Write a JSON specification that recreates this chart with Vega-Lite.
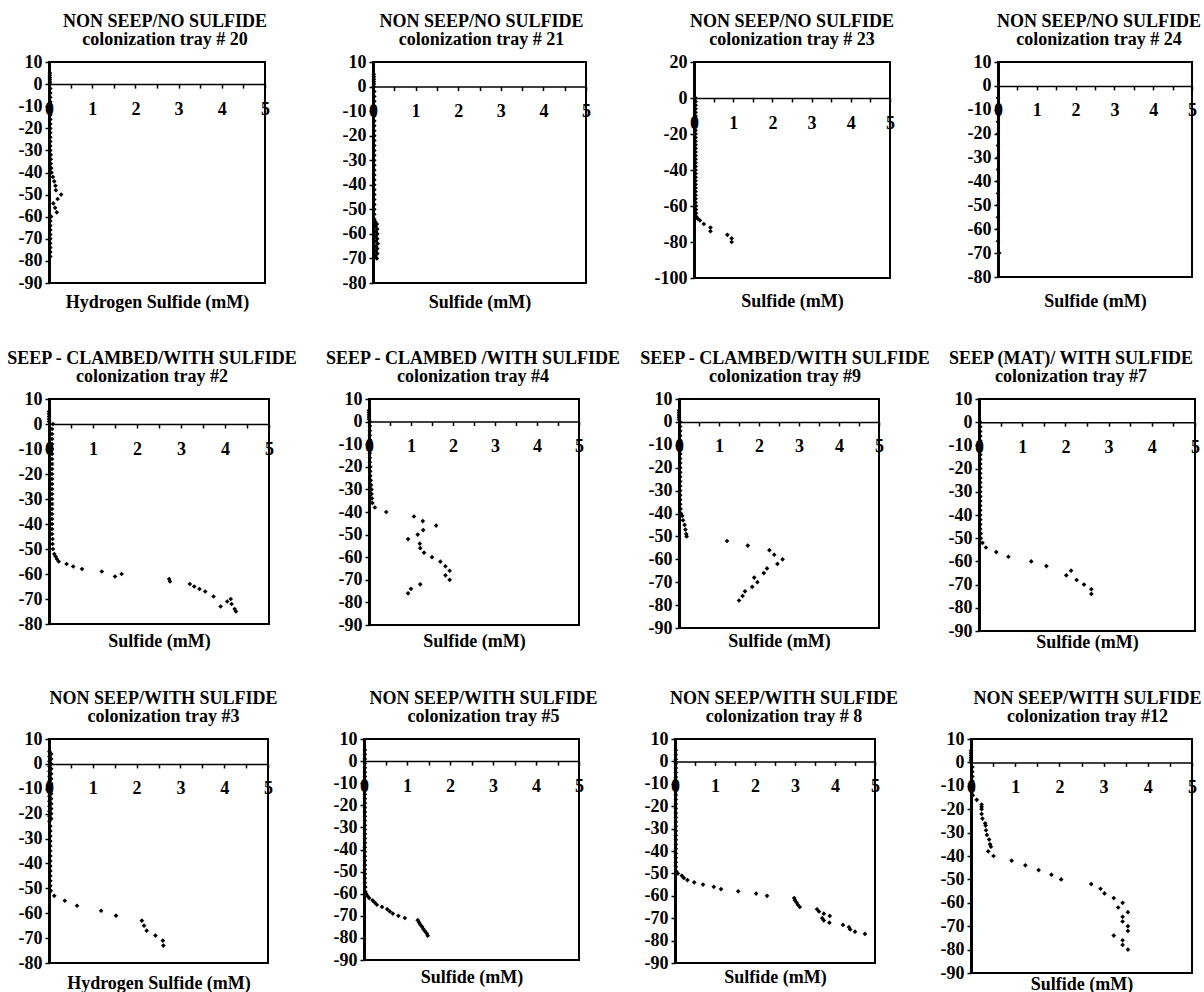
{
  "$schema": "https://vega.github.io/schema/vega-lite/v6.json",
  "background": "white",
  "padding": {"left": 5, "top": 12, "right": 2, "bottom": 0},
  "config": {
    "font": "Liberation Serif",
    "view": {"stroke": "black", "strokeWidth": 2},
    "axis": {"grid": false, "labelFont": "Liberation Serif", "labelFontSize": 18, "labelFontWeight": "bold", "labelColor": "black", "titleFont": "Liberation Serif", "titleFontSize": 18, "titleFontWeight": "bold", "titleColor": "black", "domainColor": "black", "tickColor": "black", "tickSize": 4, "labelOverlap": false, "labelBound": false, "labelFlush": false},
    "axisX": {"domainWidth": 1.5, "tickWidth": 1.5, "labelPadding": 12, "titleBaseline": "top", "titlePadding": 0, "labelFlush": false},
    "axisY": {"domainWidth": 3, "tickWidth": 1.5, "labelPadding": 3},
    "title": {"font": "Liberation Serif", "fontSize": 18, "fontWeight": "bold", "color": "black", "anchor": "middle", "frame": "group", "lineHeight": 18, "offset": 4},
    "point": {"shape": "diamond", "filled": true, "color": "black", "size": 22, "opacity": 1}
  },
  "datasets": {
    "t20": [
      {"depth":5,"sulfide":0.02},{"depth":4,"sulfide":0.02},{"depth":3,"sulfide":0.02},{"depth":2,"sulfide":0.02},{"depth":1,"sulfide":0.02},{"depth":0,"sulfide":0.02},
      {"depth":-2,"sulfide":0.03},{"depth":-4,"sulfide":0.03},{"depth":-6,"sulfide":0.03},{"depth":-8,"sulfide":0.03},{"depth":-10,"sulfide":0.03},{"depth":-12,"sulfide":0.03},{"depth":-14,"sulfide":0.03},{"depth":-16,"sulfide":0.03},{"depth":-18,"sulfide":0.03},{"depth":-20,"sulfide":0.03},{"depth":-22,"sulfide":0.03},{"depth":-24,"sulfide":0.03},{"depth":-26,"sulfide":0.03},{"depth":-28,"sulfide":0.03},{"depth":-30,"sulfide":0.03},{"depth":-32,"sulfide":0.04},{"depth":-34,"sulfide":0.04},{"depth":-36,"sulfide":0.04},{"depth":-38,"sulfide":0.05},
      {"depth":-40,"sulfide":0.06},{"depth":-42,"sulfide":0.09},{"depth":-44,"sulfide":0.12},{"depth":-46,"sulfide":0.15},{"depth":-48,"sulfide":0.16},{"depth":-50,"sulfide":0.28},{"depth":-52,"sulfide":0.2},{"depth":-54,"sulfide":0.1},{"depth":-56,"sulfide":0.14},{"depth":-58,"sulfide":0.18},{"depth":-60,"sulfide":0.05},
      {"depth":-62,"sulfide":0.03},{"depth":-64,"sulfide":0.03},{"depth":-66,"sulfide":0.03},{"depth":-68,"sulfide":0.03},{"depth":-70,"sulfide":0.03},{"depth":-72,"sulfide":0.03},{"depth":-74,"sulfide":0.03},{"depth":-76,"sulfide":0.03},{"depth":-78,"sulfide":0.03}
    ],
    "t21": [
      {"depth":5,"sulfide":0.02},{"depth":4,"sulfide":0.02},{"depth":3,"sulfide":0.02},{"depth":2,"sulfide":0.02},{"depth":1,"sulfide":0.02},{"depth":0,"sulfide":0.02},
      {"depth":-2,"sulfide":0.03},{"depth":-4,"sulfide":0.03},{"depth":-6,"sulfide":0.03},{"depth":-8,"sulfide":0.03},{"depth":-10,"sulfide":0.03},{"depth":-12,"sulfide":0.03},{"depth":-14,"sulfide":0.03},{"depth":-16,"sulfide":0.03},{"depth":-18,"sulfide":0.03},{"depth":-20,"sulfide":0.03},{"depth":-22,"sulfide":0.03},{"depth":-24,"sulfide":0.03},{"depth":-26,"sulfide":0.03},{"depth":-28,"sulfide":0.03},{"depth":-30,"sulfide":0.03},{"depth":-32,"sulfide":0.03},{"depth":-34,"sulfide":0.03},{"depth":-36,"sulfide":0.03},{"depth":-38,"sulfide":0.03},{"depth":-40,"sulfide":0.03},{"depth":-42,"sulfide":0.03},{"depth":-44,"sulfide":0.03},{"depth":-46,"sulfide":0.03},{"depth":-48,"sulfide":0.03},{"depth":-50,"sulfide":0.03},{"depth":-52,"sulfide":0.03},{"depth":-54,"sulfide":0.03},
      {"depth":-55,"sulfide":0.05},{"depth":-56,"sulfide":0.09},{"depth":-57,"sulfide":0.06},{"depth":-58,"sulfide":0.1},{"depth":-59,"sulfide":0.07},{"depth":-60,"sulfide":0.1},{"depth":-61,"sulfide":0.06},{"depth":-62,"sulfide":0.1},{"depth":-63,"sulfide":0.07},{"depth":-64,"sulfide":0.11},{"depth":-65,"sulfide":0.07},{"depth":-66,"sulfide":0.1},{"depth":-67,"sulfide":0.07},{"depth":-68,"sulfide":0.1},{"depth":-69,"sulfide":0.06},{"depth":-70,"sulfide":0.09}
    ],
    "t23": [
      {"depth":0,"sulfide":0.04},{"depth":-2,"sulfide":0.04},{"depth":-4,"sulfide":0.04},{"depth":-6,"sulfide":0.04},{"depth":-8,"sulfide":0.04},{"depth":-10,"sulfide":0.04},{"depth":-12,"sulfide":0.04},{"depth":-14,"sulfide":0.04},{"depth":-16,"sulfide":0.04},{"depth":-18,"sulfide":0.04},{"depth":-20,"sulfide":0.04},{"depth":-22,"sulfide":0.04},{"depth":-24,"sulfide":0.04},{"depth":-26,"sulfide":0.04},{"depth":-28,"sulfide":0.04},{"depth":-30,"sulfide":0.04},{"depth":-32,"sulfide":0.04},{"depth":-34,"sulfide":0.04},{"depth":-36,"sulfide":0.04},{"depth":-38,"sulfide":0.04},{"depth":-40,"sulfide":0.04},{"depth":-42,"sulfide":0.04},{"depth":-44,"sulfide":0.04},{"depth":-46,"sulfide":0.04},{"depth":-48,"sulfide":0.04},{"depth":-50,"sulfide":0.04},{"depth":-52,"sulfide":0.04},{"depth":-54,"sulfide":0.04},{"depth":-56,"sulfide":0.04},{"depth":-58,"sulfide":0.04},{"depth":-60,"sulfide":0.05},{"depth":-62,"sulfide":0.05},{"depth":-64,"sulfide":0.05},
      {"depth":-66,"sulfide":0.06},{"depth":-67,"sulfide":0.09},{"depth":-68,"sulfide":0.15},{"depth":-70,"sulfide":0.25},{"depth":-72,"sulfide":0.42},{"depth":-74,"sulfide":0.42},{"depth":-76,"sulfide":0.85},{"depth":-78,"sulfide":0.96},{"depth":-80,"sulfide":0.96}
    ],
    "t24": [
      {"depth":-5,"sulfide":0},{"depth":-10,"sulfide":0},{"depth":-15,"sulfide":0},{"depth":-20,"sulfide":0},{"depth":-25,"sulfide":0},{"depth":-30,"sulfide":0},{"depth":-35,"sulfide":0},{"depth":-40,"sulfide":0},{"depth":-45,"sulfide":0},{"depth":-50,"sulfide":0},{"depth":-55,"sulfide":0},{"depth":-60,"sulfide":0},{"depth":-65,"sulfide":0},{"depth":-70,"sulfide":0.03}
    ],
    "t2": [
      {"depth":5,"sulfide":0},{"depth":4,"sulfide":0},{"depth":3,"sulfide":0},{"depth":2,"sulfide":0},{"depth":1,"sulfide":0},{"depth":0,"sulfide":0.09},
      {"depth":-2,"sulfide":0.07},{"depth":-4,"sulfide":0.07},{"depth":-6,"sulfide":0.07},{"depth":-8,"sulfide":0.07},{"depth":-10,"sulfide":0.07},{"depth":-12,"sulfide":0.07},{"depth":-14,"sulfide":0.07},{"depth":-16,"sulfide":0.07},{"depth":-18,"sulfide":0.07},{"depth":-20,"sulfide":0.07},{"depth":-22,"sulfide":0.07},{"depth":-24,"sulfide":0.07},{"depth":-26,"sulfide":0.07},{"depth":-28,"sulfide":0.07},{"depth":-30,"sulfide":0.07},{"depth":-32,"sulfide":0.07},{"depth":-34,"sulfide":0.07},{"depth":-36,"sulfide":0.07},{"depth":-38,"sulfide":0.07},{"depth":-40,"sulfide":0.07},{"depth":-42,"sulfide":0.07},{"depth":-44,"sulfide":0.07},{"depth":-46,"sulfide":0.08},{"depth":-48,"sulfide":0.08},{"depth":-50,"sulfide":0.09},
      {"depth":-52,"sulfide":0.12},{"depth":-53,"sulfide":0.15},{"depth":-54,"sulfide":0.18},{"depth":-55,"sulfide":0.22},{"depth":-56,"sulfide":0.4},{"depth":-57,"sulfide":0.55},{"depth":-58,"sulfide":0.75},{"depth":-59,"sulfide":1.2},{"depth":-61,"sulfide":1.5},{"depth":-60,"sulfide":1.65},{"depth":-62,"sulfide":2.73},{"depth":-63,"sulfide":2.75},{"depth":-64,"sulfide":3.2},{"depth":-65,"sulfide":3.3},{"depth":-66,"sulfide":3.42},{"depth":-67,"sulfide":3.55},{"depth":-69,"sulfide":3.74},{"depth":-73,"sulfide":3.9},{"depth":-71,"sulfide":4.05},{"depth":-70,"sulfide":4.13},{"depth":-72,"sulfide":4.15},{"depth":-74,"sulfide":4.22},{"depth":-75,"sulfide":4.25}
    ],
    "t4": [
      {"depth":5,"sulfide":0},{"depth":4,"sulfide":0},{"depth":3,"sulfide":0},{"depth":2,"sulfide":0},{"depth":1,"sulfide":0},
      {"depth":0,"sulfide":0.02},{"depth":-2,"sulfide":0.02},{"depth":-4,"sulfide":0.02},{"depth":-6,"sulfide":0.02},{"depth":-8,"sulfide":0.02},{"depth":-10,"sulfide":0.02},{"depth":-12,"sulfide":0.02},{"depth":-14,"sulfide":0.02},{"depth":-16,"sulfide":0.02},{"depth":-18,"sulfide":0.02},{"depth":-20,"sulfide":0.03},{"depth":-22,"sulfide":0.03},{"depth":-24,"sulfide":0.03},{"depth":-26,"sulfide":0.04},{"depth":-28,"sulfide":0.05},{"depth":-30,"sulfide":0.06},{"depth":-32,"sulfide":0.06},{"depth":-34,"sulfide":0.07},{"depth":-36,"sulfide":0.08},
      {"depth":-38,"sulfide":0.14},{"depth":-40,"sulfide":0.41},{"depth":-42,"sulfide":1.07},{"depth":-44,"sulfide":1.28},{"depth":-46,"sulfide":1.6},{"depth":-48,"sulfide":1.29},{"depth":-50,"sulfide":1.16},{"depth":-52,"sulfide":0.93},{"depth":-54,"sulfide":1.21},{"depth":-56,"sulfide":1.22},{"depth":-58,"sulfide":1.31},{"depth":-60,"sulfide":1.5},{"depth":-62,"sulfide":1.7},{"depth":-64,"sulfide":1.82},{"depth":-66,"sulfide":1.92},{"depth":-68,"sulfide":1.82},{"depth":-70,"sulfide":1.92},{"depth":-72,"sulfide":1.22},{"depth":-74,"sulfide":1.0},{"depth":-76,"sulfide":0.93}
    ],
    "t9": [
      {"depth":5,"sulfide":0},{"depth":4,"sulfide":0},{"depth":3,"sulfide":0},{"depth":2,"sulfide":0},{"depth":1,"sulfide":0},
      {"depth":0,"sulfide":0.03},{"depth":-2,"sulfide":0.03},{"depth":-4,"sulfide":0.03},{"depth":-6,"sulfide":0.03},{"depth":-8,"sulfide":0.03},{"depth":-10,"sulfide":0.03},{"depth":-12,"sulfide":0.03},{"depth":-14,"sulfide":0.03},{"depth":-16,"sulfide":0.03},{"depth":-18,"sulfide":0.03},{"depth":-20,"sulfide":0.03},{"depth":-22,"sulfide":0.03},{"depth":-24,"sulfide":0.03},{"depth":-26,"sulfide":0.03},{"depth":-28,"sulfide":0.03},{"depth":-30,"sulfide":0.03},{"depth":-32,"sulfide":0.03},{"depth":-34,"sulfide":0.03},{"depth":-36,"sulfide":0.03},
      {"depth":-38,"sulfide":0.04},{"depth":-40,"sulfide":0.05},{"depth":-41,"sulfide":0.08},{"depth":-43,"sulfide":0.1},{"depth":-45,"sulfide":0.14},{"depth":-47,"sulfide":0.16},{"depth":-49,"sulfide":0.18},{"depth":-50,"sulfide":0.19},
      {"depth":-52,"sulfide":1.2},{"depth":-54,"sulfide":1.72},{"depth":-56,"sulfide":2.26},{"depth":-58,"sulfide":2.38},{"depth":-60,"sulfide":2.59},{"depth":-62,"sulfide":2.46},{"depth":-64,"sulfide":2.2},{"depth":-66,"sulfide":2.12},{"depth":-68,"sulfide":1.88},{"depth":-70,"sulfide":1.96},{"depth":-72,"sulfide":1.83},{"depth":-74,"sulfide":1.65},{"depth":-76,"sulfide":1.59},{"depth":-78,"sulfide":1.5}
    ],
    "t7": [
      {"depth":0,"sulfide":0.03},{"depth":-2,"sulfide":0.03},{"depth":-4,"sulfide":0.03},{"depth":-6,"sulfide":0.03},{"depth":-8,"sulfide":0.03},{"depth":-10,"sulfide":0.03},{"depth":-12,"sulfide":0.03},{"depth":-14,"sulfide":0.03},{"depth":-16,"sulfide":0.03},{"depth":-18,"sulfide":0.03},{"depth":-20,"sulfide":0.03},{"depth":-22,"sulfide":0.03},{"depth":-24,"sulfide":0.03},{"depth":-26,"sulfide":0.03},{"depth":-28,"sulfide":0.03},{"depth":-30,"sulfide":0.03},{"depth":-32,"sulfide":0.03},{"depth":-34,"sulfide":0.03},{"depth":-36,"sulfide":0.03},{"depth":-38,"sulfide":0.03},{"depth":-40,"sulfide":0.03},{"depth":-42,"sulfide":0.03},{"depth":-44,"sulfide":0.03},{"depth":-46,"sulfide":0.03},{"depth":-48,"sulfide":0.04},{"depth":-50,"sulfide":0.04},
      {"depth":-52,"sulfide":0.08},{"depth":-54,"sulfide":0.16},{"depth":-56,"sulfide":0.4},{"depth":-58,"sulfide":0.68},{"depth":-60,"sulfide":1.21},{"depth":-62,"sulfide":1.56},{"depth":-64,"sulfide":2.13},{"depth":-66,"sulfide":2.02},{"depth":-68,"sulfide":2.26},{"depth":-70,"sulfide":2.43},{"depth":-72,"sulfide":2.6},{"depth":-74,"sulfide":2.6}
    ],
    "t3": [
      {"depth":5,"sulfide":0.01},{"depth":4,"sulfide":0.05},{"depth":3,"sulfide":0.01},{"depth":2,"sulfide":0.05},{"depth":1,"sulfide":0.01},{"depth":0,"sulfide":0.05},{"depth":-1,"sulfide":0.01},{"depth":-2,"sulfide":0.05},{"depth":-3,"sulfide":0.01},{"depth":-4,"sulfide":0.05},{"depth":-5,"sulfide":0.01},{"depth":-6,"sulfide":0.05},{"depth":-7,"sulfide":0.01},{"depth":-8,"sulfide":0.05},{"depth":-9,"sulfide":0.01},{"depth":-10,"sulfide":0.05},{"depth":-11,"sulfide":0.01},{"depth":-12,"sulfide":0.05},{"depth":-13,"sulfide":0.01},{"depth":-14,"sulfide":0.05},{"depth":-15,"sulfide":0.01},{"depth":-16,"sulfide":0.05},{"depth":-17,"sulfide":0.01},{"depth":-18,"sulfide":0.05},{"depth":-19,"sulfide":0.01},{"depth":-20,"sulfide":0.05},{"depth":-21,"sulfide":0.01},{"depth":-22,"sulfide":0.05},{"depth":-23,"sulfide":0.01},
      {"depth":-25,"sulfide":0.03},{"depth":-27,"sulfide":0.03},{"depth":-29,"sulfide":0.03},{"depth":-31,"sulfide":0.03},{"depth":-33,"sulfide":0.03},{"depth":-35,"sulfide":0.03},{"depth":-37,"sulfide":0.03},{"depth":-39,"sulfide":0.03},{"depth":-41,"sulfide":0.03},{"depth":-43,"sulfide":0.03},{"depth":-45,"sulfide":0.03},{"depth":-47,"sulfide":0.03},{"depth":-49,"sulfide":0.03},{"depth":-51,"sulfide":0.04},
      {"depth":-53,"sulfide":0.12},{"depth":-55,"sulfide":0.36},{"depth":-57,"sulfide":0.64},{"depth":-59,"sulfide":1.19},{"depth":-61,"sulfide":1.53},{"depth":-63,"sulfide":2.12},{"depth":-65,"sulfide":2.17},{"depth":-67,"sulfide":2.23},{"depth":-69,"sulfide":2.43},{"depth":-71,"sulfide":2.6},{"depth":-73,"sulfide":2.61}
    ],
    "t5": [
      {"depth":5,"sulfide":0.02},{"depth":3,"sulfide":0.02},{"depth":1,"sulfide":0.02},{"depth":-1,"sulfide":0.02},{"depth":-3,"sulfide":0.02},{"depth":-5,"sulfide":0.02},{"depth":-7,"sulfide":0.02},{"depth":-9,"sulfide":0.02},{"depth":-11,"sulfide":0.02},{"depth":-13,"sulfide":0.02},{"depth":-15,"sulfide":0.02},{"depth":-17,"sulfide":0.02},{"depth":-19,"sulfide":0.02},{"depth":-21,"sulfide":0.02},{"depth":-23,"sulfide":0.02},{"depth":-25,"sulfide":0.02},{"depth":-27,"sulfide":0.02},{"depth":-29,"sulfide":0.02},{"depth":-31,"sulfide":0.02},{"depth":-33,"sulfide":0.02},{"depth":-35,"sulfide":0.02},{"depth":-37,"sulfide":0.02},{"depth":-39,"sulfide":0.02},{"depth":-41,"sulfide":0.02},{"depth":-43,"sulfide":0.02},{"depth":-45,"sulfide":0.02},{"depth":-47,"sulfide":0.02},{"depth":-49,"sulfide":0.02},{"depth":-51,"sulfide":0.02},{"depth":-53,"sulfide":0.02},{"depth":-55,"sulfide":0.02},{"depth":-57,"sulfide":0.03},{"depth":-59,"sulfide":0.03},
      {"depth":-60,"sulfide":0.05},{"depth":-61,"sulfide":0.08},{"depth":-62,"sulfide":0.12},{"depth":-63,"sulfide":0.2},{"depth":-64,"sulfide":0.25},{"depth":-65,"sulfide":0.3},{"depth":-66,"sulfide":0.42},{"depth":-67,"sulfide":0.54},{"depth":-68,"sulfide":0.6},{"depth":-69,"sulfide":0.67},{"depth":-70,"sulfide":0.8},{"depth":-71,"sulfide":0.95},{"depth":-72,"sulfide":1.25},{"depth":-73,"sulfide":1.28},{"depth":-74,"sulfide":1.31},{"depth":-75,"sulfide":1.35},{"depth":-76,"sulfide":1.38},{"depth":-77,"sulfide":1.42},{"depth":-78,"sulfide":1.46},{"depth":-79,"sulfide":1.48}
    ],
    "t8": [
      {"depth":5,"sulfide":0.02},{"depth":3,"sulfide":0.02},{"depth":1,"sulfide":0.02},{"depth":-1,"sulfide":0.02},{"depth":-3,"sulfide":0.02},{"depth":-5,"sulfide":0.02},{"depth":-7,"sulfide":0.02},{"depth":-9,"sulfide":0.02},{"depth":-11,"sulfide":0.02},{"depth":-13,"sulfide":0.02},{"depth":-15,"sulfide":0.02},{"depth":-17,"sulfide":0.02},{"depth":-19,"sulfide":0.02},{"depth":-21,"sulfide":0.02},{"depth":-23,"sulfide":0.02},{"depth":-25,"sulfide":0.02},{"depth":-27,"sulfide":0.02},{"depth":-29,"sulfide":0.02},{"depth":-31,"sulfide":0.02},{"depth":-33,"sulfide":0.02},{"depth":-35,"sulfide":0.02},{"depth":-37,"sulfide":0.02},{"depth":-39,"sulfide":0.02},{"depth":-41,"sulfide":0.02},{"depth":-43,"sulfide":0.02},{"depth":-45,"sulfide":0.02},{"depth":-47,"sulfide":0.02},
      {"depth":-49,"sulfide":0.03},{"depth":-50,"sulfide":0.07},{"depth":-51,"sulfide":0.17},{"depth":-52,"sulfide":0.22},{"depth":-53,"sulfide":0.31},{"depth":-54,"sulfide":0.48},{"depth":-55,"sulfide":0.7},{"depth":-56,"sulfide":0.97},{"depth":-57,"sulfide":1.15},{"depth":-58,"sulfide":1.58},{"depth":-59,"sulfide":2.03},{"depth":-60,"sulfide":2.3},{"depth":-61,"sulfide":2.98},{"depth":-62,"sulfide":3.0},{"depth":-63,"sulfide":3.04},{"depth":-64,"sulfide":3.07},{"depth":-65,"sulfide":3.12},{"depth":-66,"sulfide":3.55},{"depth":-67,"sulfide":3.6},{"depth":-68,"sulfide":3.72},{"depth":-69,"sulfide":3.87},{"depth":-70,"sulfide":3.68},{"depth":-71,"sulfide":3.72},{"depth":-72,"sulfide":3.86},{"depth":-73,"sulfide":4.2},{"depth":-74,"sulfide":4.35},{"depth":-75,"sulfide":4.38},{"depth":-76,"sulfide":4.5},{"depth":-77,"sulfide":4.75}
    ],
    "t12": [
      {"depth":5,"sulfide":0},{"depth":4,"sulfide":0},{"depth":3,"sulfide":0},{"depth":2,"sulfide":0},{"depth":1,"sulfide":0},{"depth":0,"sulfide":0},
      {"depth":-2,"sulfide":0.03},{"depth":-4,"sulfide":0.03},{"depth":-6,"sulfide":0.03},{"depth":-8,"sulfide":0.03},{"depth":-10,"sulfide":0.03},{"depth":-12,"sulfide":0.03},{"depth":-14,"sulfide":0.04},
      {"depth":-16,"sulfide":0.13},{"depth":-18,"sulfide":0.24},{"depth":-19,"sulfide":0.24},{"depth":-20,"sulfide":0.24},{"depth":-22,"sulfide":0.24},{"depth":-24,"sulfide":0.26},{"depth":-26,"sulfide":0.32},{"depth":-27,"sulfide":0.33},{"depth":-29,"sulfide":0.34},{"depth":-31,"sulfide":0.36},{"depth":-33,"sulfide":0.41},{"depth":-35,"sulfide":0.43},{"depth":-36,"sulfide":0.45},{"depth":-38,"sulfide":0.39},{"depth":-40,"sulfide":0.51},
      {"depth":-42,"sulfide":0.92},{"depth":-44,"sulfide":1.23},{"depth":-46,"sulfide":1.53},{"depth":-48,"sulfide":1.82},{"depth":-50,"sulfide":2.04},{"depth":-52,"sulfide":2.72},{"depth":-54,"sulfide":2.93},{"depth":-56,"sulfide":3.02},{"depth":-58,"sulfide":3.23},{"depth":-60,"sulfide":3.43},{"depth":-62,"sulfide":3.33},{"depth":-64,"sulfide":3.55},{"depth":-66,"sulfide":3.43},{"depth":-68,"sulfide":3.43},{"depth":-70,"sulfide":3.55},{"depth":-72,"sulfide":3.55},{"depth":-74,"sulfide":3.23},{"depth":-76,"sulfide":3.43},{"depth":-78,"sulfide":3.43},{"depth":-80,"sulfide":3.55}
    ]
  },
  "spacing": 37,
  "vconcat": [
    {
      "spacing": 108,
      "bounds": "flush",
      "hconcat": [
        {"width": 216, "height": 221, "title": {"text": ["NON SEEP/NO SULFIDE", "colonization tray # 20"], "dx": 8}, "data": {"name": "t20"}, "mark": "point",
         "encoding": {
           "x": {"field": "sulfide", "type": "quantitative", "scale": {"domain": [0, 5], "nice": false, "zero": false}, "axis": {"title": "Hydrogen Sulfide (mM)", "offset": -198.9, "titleY": 208.9, "values": [0, 0.5, 1, 1.5, 2, 2.5, 3, 3.5, 4, 4.5, 5], "labelExpr": "datum.value % 1 === 0 ? '' + datum.value : ''"}},
           "y": {"field": "depth", "type": "quantitative", "scale": {"domain": [-90, 10], "nice": false, "zero": false}, "axis": {"title": null, "values": [10, 0, -10, -20, -30, -40, -50, -60, -70, -80, -90], "labelExpr": "(datum.value < 0 ? '-' : '') + abs(datum.value)"}}
         }},
        {"width": 213, "height": 221, "title": {"text": ["NON SEEP/NO SULFIDE", "colonization tray # 21"], "dx": 2}, "data": {"name": "t21"}, "mark": "point",
         "encoding": {
           "x": {"field": "sulfide", "type": "quantitative", "scale": {"domain": [0, 5], "nice": false, "zero": false}, "axis": {"title": "Sulfide (mM)", "offset": -196.4, "titleY": 206.4, "values": [0, 0.5, 1, 1.5, 2, 2.5, 3, 3.5, 4, 4.5, 5], "labelExpr": "datum.value % 1 === 0 ? '' + datum.value : ''"}},
           "y": {"field": "depth", "type": "quantitative", "scale": {"domain": [-80, 10], "nice": false, "zero": false}, "axis": {"title": null, "values": [10, 0, -10, -20, -30, -40, -50, -60, -70, -80], "labelExpr": "(datum.value < 0 ? '-' : '') + abs(datum.value)"}}
         }},
        {"width": 196, "height": 216, "title": {"text": ["NON SEEP/NO SULFIDE", "colonization tray # 23"], "dx": 0}, "data": {"name": "t23"}, "mark": "point",
         "encoding": {
           "x": {"field": "sulfide", "type": "quantitative", "scale": {"domain": [0, 5], "nice": false, "zero": false}, "axis": {"title": "Sulfide (mM)", "offset": -180, "titleY": 194, "values": [0, 0.5, 1, 1.5, 2, 2.5, 3, 3.5, 4, 4.5, 5], "labelExpr": "datum.value % 1 === 0 ? '' + datum.value : ''"}},
           "y": {"field": "depth", "type": "quantitative", "scale": {"domain": [-100, 20], "nice": false, "zero": false}, "axis": {"title": null, "values": [20, 0, -20, -40, -60, -80, -100], "labelExpr": "(datum.value < 0 ? '-' : '') + abs(datum.value)"}}
         }},
        {"width": 194, "height": 215, "title": {"text": ["NON SEEP/NO SULFIDE", "colonization tray # 24"], "dx": 4}, "data": {"name": "t24"}, "mark": "point",
         "encoding": {
           "x": {"field": "sulfide", "type": "quantitative", "scale": {"domain": [0, 5], "nice": false, "zero": false}, "axis": {"title": "Sulfide (mM)", "offset": -191.1, "titleY": 206.1, "values": [0, 0.5, 1, 1.5, 2, 2.5, 3, 3.5, 4, 4.5, 5], "labelExpr": "datum.value % 1 === 0 ? '' + datum.value : ''"}},
           "y": {"field": "depth", "type": "quantitative", "scale": {"domain": [-80, 10], "nice": false, "zero": false}, "axis": {"title": null, "values": [10, 0, -10, -20, -30, -40, -50, -60, -70, -80], "labelExpr": "(datum.value < 0 ? '-' : '') + abs(datum.value)"}}
         }}
      ]
    },
    {
      "spacing": 100,
      "bounds": "flush",
      "hconcat": [
        {"width": 220, "height": 225, "title": {"text": ["SEEP - CLAMBED/WITH SULFIDE", "colonization tray #2"], "dx": -7}, "data": {"name": "t2"}, "mark": "point",
         "encoding": {
           "x": {"field": "sulfide", "type": "quantitative", "scale": {"domain": [0, 5], "nice": false, "zero": false}, "axis": {"title": "Sulfide (mM)", "offset": -200, "titleY": 208, "values": [0, 0.5, 1, 1.5, 2, 2.5, 3, 3.5, 4, 4.5, 5], "labelExpr": "datum.value % 1 === 0 ? '' + datum.value : ''"}},
           "y": {"field": "depth", "type": "quantitative", "scale": {"domain": [-80, 10], "nice": false, "zero": false}, "axis": {"title": null, "values": [10, 0, -10, -20, -30, -40, -50, -60, -70, -80], "labelExpr": "(datum.value < 0 ? '-' : '') + abs(datum.value)"}}
         }},
        {"width": 210, "height": 226, "title": {"text": ["SEEP - CLAMBED /WITH SULFIDE", "colonization tray #4"], "dx": -1}, "data": {"name": "t4"}, "mark": "point",
         "encoding": {
           "x": {"field": "sulfide", "type": "quantitative", "scale": {"domain": [0, 5], "nice": false, "zero": false}, "axis": {"title": "Sulfide (mM)", "offset": -203.4, "titleY": 210.4, "values": [0, 0.5, 1, 1.5, 2, 2.5, 3, 3.5, 4, 4.5, 5], "labelExpr": "datum.value % 1 === 0 ? '' + datum.value : ''"}},
           "y": {"field": "depth", "type": "quantitative", "scale": {"domain": [-90, 10], "nice": false, "zero": false}, "axis": {"title": null, "values": [10, 0, -10, -20, -30, -40, -50, -60, -70, -80, -90], "labelExpr": "(datum.value < 0 ? '-' : '') + abs(datum.value)"}}
         }},
        {"width": 200, "height": 229, "title": {"text": ["SEEP - CLAMBED/WITH SULFIDE", "colonization tray #9"], "dx": 6}, "data": {"name": "t9"}, "mark": "point",
         "encoding": {
           "x": {"field": "sulfide", "type": "quantitative", "scale": {"domain": [0, 5], "nice": false, "zero": false}, "axis": {"title": "Sulfide (mM)", "offset": -206.1, "titleY": 210.1, "values": [0, 0.5, 1, 1.5, 2, 2.5, 3, 3.5, 4, 4.5, 5], "labelExpr": "datum.value % 1 === 0 ? '' + datum.value : ''"}},
           "y": {"field": "depth", "type": "quantitative", "scale": {"domain": [-90, 10], "nice": false, "zero": false}, "axis": {"title": null, "values": [10, 0, -10, -20, -30, -40, -50, -60, -70, -80, -90], "labelExpr": "(datum.value < 0 ? '-' : '') + abs(datum.value)"}}
         }},
        {"width": 216, "height": 232, "title": {"text": ["SEEP (MAT)/ WITH SULFIDE", "colonization tray #7"], "dx": -16}, "data": {"name": "t7"}, "mark": "point",
         "encoding": {
           "x": {"field": "sulfide", "type": "quantitative", "scale": {"domain": [0, 5], "nice": false, "zero": false}, "axis": {"title": "Sulfide (mM)", "offset": -208.8, "titleY": 210.8, "values": [0, 0.5, 1, 1.5, 2, 2.5, 3, 3.5, 4, 4.5, 5], "labelExpr": "datum.value % 1 === 0 ? '' + datum.value : ''"}},
           "y": {"field": "depth", "type": "quantitative", "scale": {"domain": [-90, 10], "nice": false, "zero": false}, "axis": {"title": null, "values": [10, 0, -10, -20, -30, -40, -50, -60, -70, -80, -90], "labelExpr": "(datum.value < 0 ? '-' : '') + abs(datum.value)"}}
         }}
      ]
    },
    {
      "spacing": 96,
      "bounds": "flush",
      "hconcat": [
        {"width": 219, "height": 224, "title": {"text": ["NON SEEP/WITH SULFIDE", "colonization tray #3"], "dx": 5}, "data": {"name": "t3"}, "mark": "point",
         "encoding": {
           "x": {"field": "sulfide", "type": "quantitative", "scale": {"domain": [0, 5], "nice": false, "zero": false}, "axis": {"title": "Hydrogen Sulfide (mM)", "offset": -199.1, "titleY": 210.1, "values": [0, 0.5, 1, 1.5, 2, 2.5, 3, 3.5, 4, 4.5, 5], "labelExpr": "datum.value % 1 === 0 ? '' + datum.value : ''"}},
           "y": {"field": "depth", "type": "quantitative", "scale": {"domain": [-80, 10], "nice": false, "zero": false}, "axis": {"title": null, "values": [10, 0, -10, -20, -30, -40, -50, -60, -70, -80], "labelExpr": "(datum.value < 0 ? '-' : '') + abs(datum.value)"}}
         }},
        {"width": 215, "height": 221, "title": {"text": ["NON SEEP/WITH SULFIDE", "colonization tray #5"], "dx": 12}, "data": {"name": "t5"}, "mark": "point",
         "encoding": {
           "x": {"field": "sulfide", "type": "quantitative", "scale": {"domain": [0, 5], "nice": false, "zero": false}, "axis": {"title": "Sulfide (mM)", "offset": -198.9, "titleY": 206.9, "values": [0, 0.5, 1, 1.5, 2, 2.5, 3, 3.5, 4, 4.5, 5], "labelExpr": "datum.value % 1 === 0 ? '' + datum.value : ''"}},
           "y": {"field": "depth", "type": "quantitative", "scale": {"domain": [-90, 10], "nice": false, "zero": false}, "axis": {"title": null, "values": [10, 0, -10, -20, -30, -40, -50, -60, -70, -80, -90], "labelExpr": "(datum.value < 0 ? '-' : '') + abs(datum.value)"}}
         }},
        {"width": 200, "height": 224, "title": {"text": ["NON SEEP/WITH SULFIDE", "colonization tray # 8"], "dx": 9}, "data": {"name": "t8"}, "mark": "point",
         "encoding": {
           "x": {"field": "sulfide", "type": "quantitative", "scale": {"domain": [0, 5], "nice": false, "zero": false}, "axis": {"title": "Sulfide (mM)", "offset": -201.6, "titleY": 206.6, "values": [0, 0.5, 1, 1.5, 2, 2.5, 3, 3.5, 4, 4.5, 5], "labelExpr": "datum.value % 1 === 0 ? '' + datum.value : ''"}},
           "y": {"field": "depth", "type": "quantitative", "scale": {"domain": [-90, 10], "nice": false, "zero": false}, "axis": {"title": null, "values": [10, 0, -10, -20, -30, -40, -50, -60, -70, -80, -90], "labelExpr": "(datum.value < 0 ? '-' : '') + abs(datum.value)"}}
         }},
        {"width": 221, "height": 234, "title": {"text": ["NON SEEP/WITH SULFIDE", "colonization tray #12"], "dx": 6}, "data": {"name": "t12"}, "mark": "point",
         "encoding": {
           "x": {"field": "sulfide", "type": "quantitative", "scale": {"domain": [0, 5], "nice": false, "zero": false}, "axis": {"title": "Sulfide (mM)", "offset": -210.6, "titleY": 212.6, "values": [0, 0.5, 1, 1.5, 2, 2.5, 3, 3.5, 4, 4.5, 5], "labelExpr": "datum.value % 1 === 0 ? '' + datum.value : ''"}},
           "y": {"field": "depth", "type": "quantitative", "scale": {"domain": [-90, 10], "nice": false, "zero": false}, "axis": {"title": null, "values": [10, 0, -10, -20, -30, -40, -50, -60, -70, -80, -90], "labelExpr": "(datum.value < 0 ? '-' : '') + abs(datum.value)"}}
         }}
      ]
    }
  ]
}
